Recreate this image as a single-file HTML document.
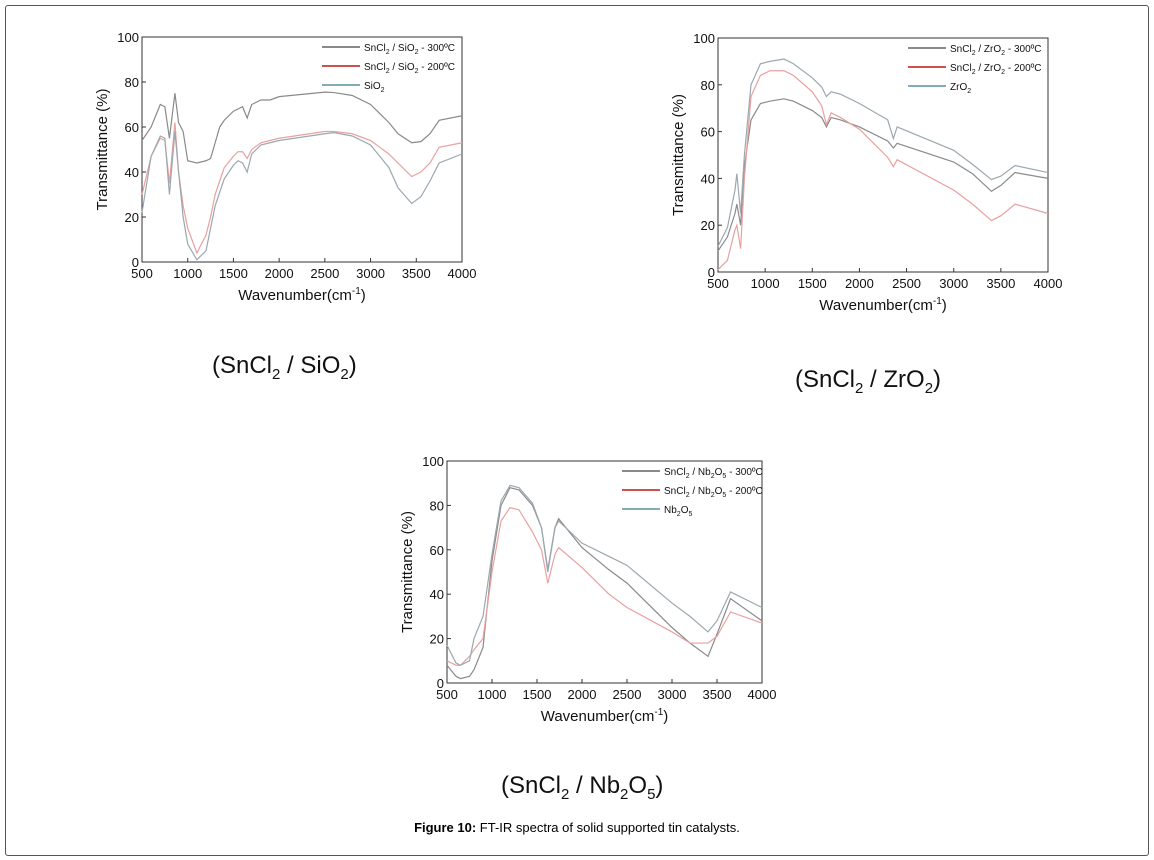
<!DOCTYPE html>
<html><head><meta charset="utf-8"><style>
body{margin:0;background:#fff;font-family:"Liberation Sans",Arial,sans-serif}
#frame{position:absolute;left:5px;top:5px;width:1142px;height:849px;border:1px solid #555;border-radius:3px}
.cap{position:absolute;font-size:24px;color:#111;white-space:nowrap}
#fig{position:absolute;left:0;width:1154px;top:820px;text-align:center;font-size:13px}
</style></head><body>
<div id="frame"></div>
<svg id="svg" width="1154" height="860" style="position:absolute;left:0;top:0"></svg>
<div class="cap" style="left:212px;top:352px">(SnCl<sub style="font-size:15px">2</sub> / SiO<sub style="font-size:15px">2</sub>)</div>
<div class="cap" style="left:795px;top:366px">(SnCl<sub style="font-size:15px">2</sub> / ZrO<sub style="font-size:15px">2</sub>)</div>
<div class="cap" style="left:501px;top:772px">(SnCl<sub style="font-size:15px">2</sub> / Nb<sub style="font-size:15px">2</sub>O<sub style="font-size:15px">5</sub>)</div>
<div id="fig"><b>Figure 10:</b> FT-IR spectra of solid supported tin catalysts.</div>
<script>
const xTicks=[500,1000,1500,2000,2500,3000,3500,4000];
const yTicks=[0,20,40,60,80,100];
// Chart 1 SiO2
const w1=[500,600,700,750,800,860,900,950,1000,1100,1200,1250,1300,1350,1400,1500,1550,1600,1650,1700,1800,1900,2000,2500,2600,2800,3000,3200,3300,3450,3550,3650,3750,4000];
const s1a=[54,60,70,69,55,75,62,58,45,44,45,46,53,60,63,67,68,69,64,70,72,72,73.5,75.5,75.3,74,70,62,57,53,53.5,57,63,65];
const s1b=[30,47,55,54,35,62,40,25,15,4,12,20,30,36,42,47,49,49,46,50,53,54,55,58,58,57,54,48,44,38,40,44,51,53];
const s1c=[22,47,56,55,30,58,40,20,8,1,5,15,25,31,37,43,45,44,40,48,52,53,54,57,57.5,56,52,42,33,26,29,36,44,48];
// Chart 2 ZrO2
const w2=[500,600,680,700,740,780,850,950,1050,1200,1300,1500,1600,1650,1700,1800,2000,2300,2360,2400,3000,3200,3400,3500,3650,4000];
const s2a=[9,15,25,29,20,45,65,72,73,74,73,69,66,62,66,65,62,56,53,55,47,42,34.5,37,42.5,40];
const s2b=[1,5,18,20,10,40,75,84,86,86,84,77,71,63,68,66,61,49,45,48,35,29,22,24,29,25];
const s2c=[11,19,35,42,25,50,80,89,90,91,89,83,79,75,77,76,72,65,57,62,52,46,39.5,41,45.5,42.5];
// Chart 3 Nb2O5
const w3=[500,600,650,750,800,900,1000,1100,1200,1300,1450,1550,1620,1700,1740,2000,2300,2500,3000,3200,3400,3500,3650,4000];
const s3a=[8,3,2,3,6,16,55,80,88,87,80,70,51,70,74,61,51,45,25,18,12,22,38,28];
const s3b=[10,8,8,12,15,20,50,73,79,78,68,60,45,58,61,52,40,34,23,18,18,21,32,27];
const s3c=[17,9,8,10,20,30,58,82,89,88,81,70,50,70,73,63,57,53,36,30,23,28,41,34];

const NS='http://www.w3.org/2000/svg';
const svg=document.getElementById('svg');
function mk(tag,attrs,parent){const e=document.createElementNS(NS,tag);for(const k in attrs)e.setAttribute(k,attrs[k]);(parent||svg).appendChild(e);return e;}
function chart(id,L,T,R,B,w,series,labels){
  const g=mk('g',{});
  
  
  const sx=v=>L+(v-500)/3500*(R-L), sy=v=>B-v/100*(B-T);
  const ax=mk('rect',{x:L,y:T,width:R-L,height:B-T,fill:'none',stroke:'#333','stroke-width':1},g);
  
  
  xTicks.forEach(t=>{mk('line',{x1:sx(t),x2:sx(t),y1:B,y2:B-4,stroke:'#333'},g);
    const tx=mk('text',{x:sx(t),y:B+16,'font-size':13,'text-anchor':'middle',fill:'#111'},g);tx.textContent=t;
    
    });
  yTicks.forEach(t=>{mk('line',{x1:L,x2:L+4,y1:sy(t),y2:sy(t),stroke:'#333'},g);
    const tx=mk('text',{x:L-3,y:sy(t)+5,'font-size':13,'text-anchor':'end',fill:'#111'},g);tx.textContent=t;
    
    });
  const xt=mk('text',{x:(L+R)/2,y:B+38,'font-size':15,'text-anchor':'middle',fill:'#111'},g);
  xt.innerHTML='Wavenumber(cm<tspan dy="-6" font-size="10">-1</tspan><tspan dy="6">)</tspan>';
  
  
  const yt=mk('text',{x:0,y:0,'font-size':15,'text-anchor':'middle',fill:'#111',transform:`translate(${L-35},${(T+B)/2}) rotate(-90)`},g);
  yt.textContent='Transmittance (%)';
  
  
  const cols=['#444','#d05050','#3a7a8a'], lcols=['#8a8a8a','#e8a0a0','#9aa8b0'];
  series.forEach((s,i)=>{
    const p=mk('polyline',{points:s.map((v,j)=>sx(w[j])+','+sy(v)).join(' '),fill:'none',stroke:lcols[i],'stroke-width':1.2},g);
    
    
    const ly=T+10+i*19;
    const ll=mk('line',{x1:R-140,x2:R-102,y1:ly,y2:ly,stroke:cols[i],'stroke-width':i==1?2:1.3},g);
    
    
    const lt=mk('text',{x:R-98,y:ly+4,'font-size':10,fill:'#111'},g);
    lt.innerHTML=labels[i];
    
    
  });
}
const sub=n=>`<tspan dy="3" font-size="7">${n}</tspan><tspan dy="-3">`;
chart('chart-sio2',142,37,462,262,w1,[s1a,s1b,s1c],
 ['SnCl'+sub(2)+' / SiO'+sub(2)+' - 300ºC</tspan></tspan>','SnCl'+sub(2)+' / SiO'+sub(2)+' - 200ºC</tspan></tspan>','SiO'+sub(2)+'</tspan>']);
chart('chart-zro2',718,38,1048,272,w2,[s2a,s2b,s2c],
 ['SnCl'+sub(2)+' / ZrO'+sub(2)+' - 300ºC</tspan></tspan>','SnCl'+sub(2)+' / ZrO'+sub(2)+' - 200ºC</tspan></tspan>','ZrO'+sub(2)+'</tspan>']);
chart('chart-nb2o5',447,461,762,683,w3,[s3a,s3b,s3c],
 ['SnCl'+sub(2)+' / Nb'+sub(2)+'O'+sub(5)+' - 300ºC</tspan></tspan></tspan>','SnCl'+sub(2)+' / Nb'+sub(2)+'O'+sub(5)+' - 200ºC</tspan></tspan></tspan>','Nb'+sub(2)+'O'+sub(5)+'</tspan></tspan>']);
</script>
</body></html>
